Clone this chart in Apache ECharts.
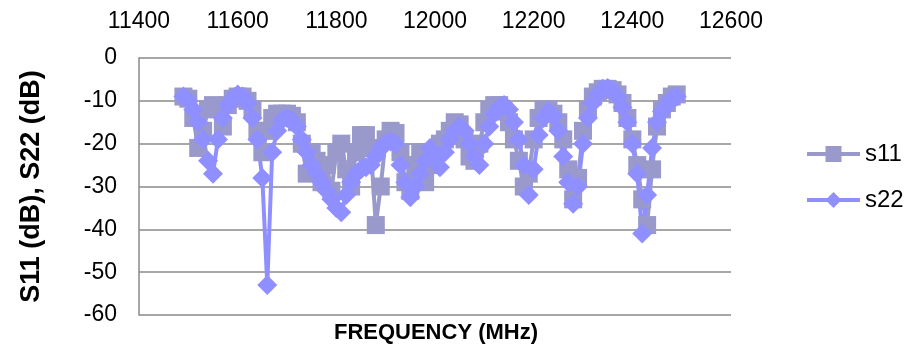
<!DOCTYPE html>
<html>
<head>
<meta charset="utf-8">
<script src="https://cdn.jsdelivr.net/npm/echarts@6/dist/echarts.min.js"></script>
<style>
  html, body { margin: 0; padding: 0; background: #fff; }
  #chart { width: 913px; height: 361px; }
</style>
</head>
<body>
<div id="chart"></div>
<script>
// frequency points, 11490..12490 MHz every 10 MHz
const freq = [
  11490, 11500, 11510, 11520, 11530, 11540, 11550, 11560, 11570, 11580,
  11590, 11600, 11610, 11620, 11630, 11640, 11650, 11660, 11670, 11680,
  11690, 11700, 11710, 11720, 11730, 11740, 11750, 11760, 11770, 11780,
  11790, 11800, 11810, 11820, 11830, 11840, 11850, 11860, 11870, 11880,
  11890, 11900, 11910, 11920, 11930, 11940, 11950, 11960, 11970, 11980,
  11990, 12000, 12010, 12020, 12030, 12040, 12050, 12060, 12070, 12080,
  12090, 12100, 12110, 12120, 12130, 12140, 12150, 12160, 12170, 12180,
  12190, 12200, 12210, 12220, 12230, 12240, 12250, 12260, 12270, 12280,
  12290, 12300, 12310, 12320, 12330, 12340, 12350, 12360, 12370, 12380,
  12390, 12400, 12410, 12420, 12430, 12440, 12450, 12460, 12470, 12480,
  12490
]
const s11 = [
  -9, -9.5, -14, -21, -17, -12, -11, -11.5, -16, -11,
  -9.5, -9, -9, -10, -12, -17, -22, -17, -14, -13,
  -13, -13, -13.5, -15, -20, -27, -22, -24, -29, -25,
  -31, -22, -20, -26, -30, -22, -18, -18, -21, -39,
  -30, -19, -17, -17.5, -22, -29, -31, -25, -22, -29,
  -25, -22, -20, -19, -17, -15, -15.5, -19, -23, -24,
  -20, -15, -12, -11, -11, -12.5, -15, -19, -24, -30,
  -27, -19, -14, -12, -12, -13, -15, -19, -26, -33,
  -28, -17, -12, -9, -8, -7.2, -7.2, -7.5, -8.5, -10.5,
  -14, -19, -25, -33, -39, -26, -16, -12, -10.5, -9,
  -8.5
]
const s22 = [
  -9, -10, -12, -15, -19, -24, -27, -19, -14, -11,
  -9.5, -8.5, -9, -10.5, -14, -19, -28, -53, -22, -17,
  -14.5, -14, -14.5, -16, -19, -22, -25, -27, -29, -31,
  -33, -35, -36, -32, -29, -27, -26, -25.5, -25, -23,
  -21, -20, -19.5, -20, -25, -29, -32.5, -30, -27, -24,
  -21, -23, -25.5, -22, -19, -17, -16, -17, -20, -23,
  -25, -20, -16, -13, -11.5, -11, -12, -15, -19, -25,
  -32, -26, -18, -14, -12.5, -13.5, -17, -23, -29, -34,
  -30, -20, -14, -10.5, -8.5, -7.2, -7, -7.5, -9, -11.5,
  -15, -20, -27, -41, -32, -21, -15, -12.5, -11, -9.5,
  -9
]
const xTicks = { min: 11400, max: 12600, step: 200 }
const yTicks = { min: -60, max: 0, step: 10 }

const pairs = (vals) => freq.map((f, i) => [f, vals[i]])

const myChart = echarts.init(document.getElementById('chart'), null, { renderer: 'canvas' })
const font = 'Liberation Sans, Arial, sans-serif'
const gridColor = '#8a8a8a'

const option = {
  animation: false,
  textStyle: { fontFamily: font },
  grid: { left: 139, right: 182, top: 58, bottom: 46 },
  legend: {
    orient: 'vertical',
    left: 800,
    top: 137,
    itemWidth: 53,
    itemHeight: 20,
    itemGap: 22,
    textStyle: { fontSize: 24, color: '#000', fontFamily: font },
    lineStyle: { width: 4 },
    data: ['s11', 's22']
  },
  xAxis: {
    type: 'value',
    position: 'top',
    min: xTicks.min,
    max: xTicks.max,
    interval: xTicks.step,
    axisLine: { show: false },
    axisTick: { show: false },
    splitLine: { show: false },
    axisLabel: {
      fontSize: 23,
      color: '#000',
      margin: 25,
      fontFamily: font,
      formatter: (v) => String(v)
    }
  },
  yAxis: {
    type: 'value',
    min: yTicks.min,
    max: yTicks.max,
    interval: yTicks.step,
    name: 'S11 (dB), S22 (dB)',
    nameLocation: 'middle',
    nameGap: 94,
    nameTextStyle: { fontSize: 27, fontWeight: 'bold', color: '#000', fontFamily: font },
    axisLine: { show: true, lineStyle: { color: gridColor, width: 1.5 } },
    axisTick: { show: false },
    splitLine: { lineStyle: { color: gridColor, width: 1.5 } },
    axisLabel: { fontSize: 23, color: '#000', margin: 22, fontFamily: font, padding: [4, 0, 0, 0] }
  },
  graphic: [{
    type: 'text',
    x: 436,
    y: 333,
    style: {
      text: 'FREQUENCY (MHz)',
      font: 'bold 22px ' + font,
      fill: '#000',
      textAlign: 'center',
      textVerticalAlign: 'middle'
    }
  }],
  series: [
    {
      name: 's11',
      type: 'line',
      data: pairs(s11),
      symbol: 'rect',
      symbolSize: 18,
      showAllSymbol: true,
      itemStyle: { color: '#9999cc' },
      lineStyle: { color: '#9999cc', width: 4 }
    },
    {
      name: 's22',
      type: 'line',
      data: pairs(s22),
      symbol: 'diamond',
      symbolSize: 20,
      showAllSymbol: true,
      itemStyle: { color: '#8f8fff' },
      lineStyle: { color: '#8f8fff', width: 4 }
    }
  ]
}
myChart.setOption(option)
</script>
</body>
</html>
